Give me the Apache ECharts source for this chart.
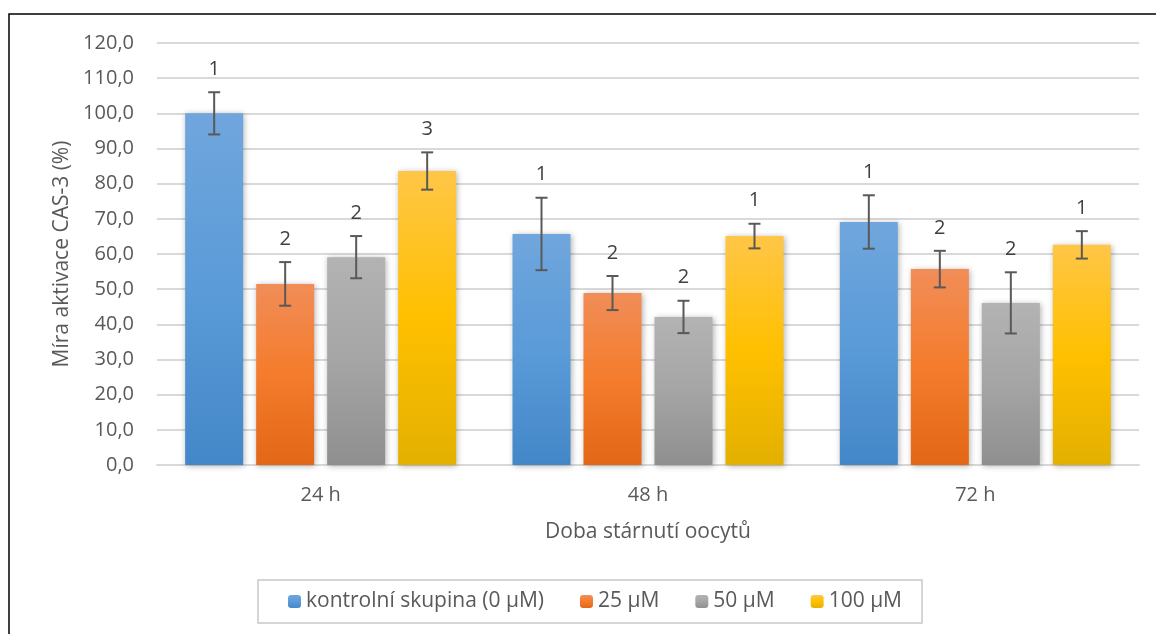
<!DOCTYPE html>
<html><head><meta charset="utf-8">
<script src="https://cdn.jsdelivr.net/npm/echarts@6/dist/echarts.min.js"></script>
<style>html,body{margin:0;padding:0;background:#fff}#c{width:1156px;height:634px}</style>
</head><body><div id="c"></div>
<script>
const categories = ['24 h', '48 h', '72 h'];
const seriesNames = ['kontrolní skupina (0 µM)', '25 µM', '50 µM', '100 µM'];
const control = [100.0, 65.7, 69.1];
const c25 = [51.5, 48.9, 55.7];
const c50 = [59.1, 42.1, 46.1];
const c100 = [83.6, 65.1, 62.6];
const errControl = [6.0, 10.3, 7.6];
const err25 = [6.2, 4.85, 5.2];
const err50 = [6.0, 4.6, 8.7];
const err100 = [5.3, 3.5, 3.9];
const letControl = [1, 1, 1];
const let25 = [2, 2, 2];
const let50 = [2, 2, 2];
const let100 = [3, 1, 1];
const yTicks = [0, 120, 10];

const values = [control, c25, c50, c100];
const errs = [errControl, err25, err50, err100];
const lets = [letControl, let25, let50, let100];
const grads = [
  ['#70A6DD', '#5A9BD8', '#4487C8'],
  ['#F18D58', '#F47C2C', '#E26716'],
  ['#B3B3B3', '#A5A5A5', '#8F8F8F'],
  ['#FFC647', '#FFC000', '#E3B000']
];
const FONT = 'Open Sans';
const BW = 58, GAP = 13;

const errData = [];
values.forEach((arr, s) => arr.forEach((v, i) => errData.push([i, s, v, errs[s][i], lets[s][i]])));

const chart = echarts.init(document.getElementById('c'));
chart.setOption({
  animation: false,
  textStyle: { fontFamily: FONT },
  graphic: [{ type: 'rect', shape: { x: 9, y: 14, width: 1300, height: 800 }, style: { fill: 'none', stroke: '#000', lineWidth: 1.5 }, z: 100 }],
  grid: { left: 157, right: 17, top: 43, bottom: 169 },
  legend: {
    left: 258, top: 580, itemWidth: 13, itemHeight: 13, itemGap: 36,
    padding: [11, 20, 11, 30], borderColor: '#C8C8C8', borderWidth: 1.5,
    data: seriesNames,
    textStyle: { fontSize: 21, color: '#595959', fontFamily: FONT }
  },
  xAxis: {
    type: 'category', data: categories,
    name: 'Doba stárnutí oocytů', nameLocation: 'middle', nameGap: 57,
    nameTextStyle: { fontSize: 21, color: '#595959' },
    axisLine: { lineStyle: { color: '#D9D9D9', width: 2 } },
    axisTick: { show: false },
    axisLabel: { fontSize: 20, color: '#595959', margin: 20 }
  },
  yAxis: {
    type: 'value', min: yTicks[0], max: yTicks[1], interval: yTicks[2],
    name: 'Míra aktivace CAS-3 (%)', nameLocation: 'middle', nameGap: 84,
    nameTextStyle: { fontSize: 21, color: '#595959' },
    axisLine: { show: false }, axisTick: { show: false },
    axisLabel: { fontSize: 20, color: '#595959', margin: 23, formatter: v => v.toFixed(1).replace('.', ',') },
    splitLine: { lineStyle: { color: '#D9D9D9', width: 2 } }
  },
  series: values.map((arr, s) => ({
    type: 'bar', name: seriesNames[s], data: arr, barWidth: BW, barGap: (GAP / BW * 100) + '%',
    itemStyle: {
      color: new echarts.graphic.LinearGradient(0, 0, 0, 1, [
        { offset: 0, color: grads[s][0] }, { offset: 0.5, color: grads[s][1] }, { offset: 1, color: grads[s][2] }
      ]),
      shadowBlur: 6, shadowColor: 'rgba(0,0,0,0.3)', shadowOffsetX: 1, shadowOffsetY: 1
    }
  })).concat([{
    type: 'custom', name: 'err', data: errData, z: 10,
    encode: { x: 0, y: 2 },
    renderItem: (params, api) => {
      const ci = api.value(0), s = api.value(1), m = api.value(2), e = api.value(3), lab = api.value(4);
      const cx = api.coord([ci, 0])[0] + (s - 1.5) * (BW + GAP);
      const yt = api.coord([ci, m + e])[1], yb = api.coord([ci, m - e])[1];
      const st = { stroke: '#595959', lineWidth: 2 };
      return { type: 'group', children: [
        { type: 'line', shape: { x1: cx, y1: yt, x2: cx, y2: yb }, style: st },
        { type: 'line', shape: { x1: cx - 6, y1: yt, x2: cx + 6, y2: yt }, style: st },
        { type: 'line', shape: { x1: cx - 6, y1: yb, x2: cx + 6, y2: yb }, style: st },
        { type: 'text', x: cx, y: yt - 23, style: { text: String(lab), fill: '#404040', fontSize: 20, fontFamily: FONT, align: 'center', verticalAlign: 'middle' } }
      ]};
    }
  }])
});
</script></body></html>
